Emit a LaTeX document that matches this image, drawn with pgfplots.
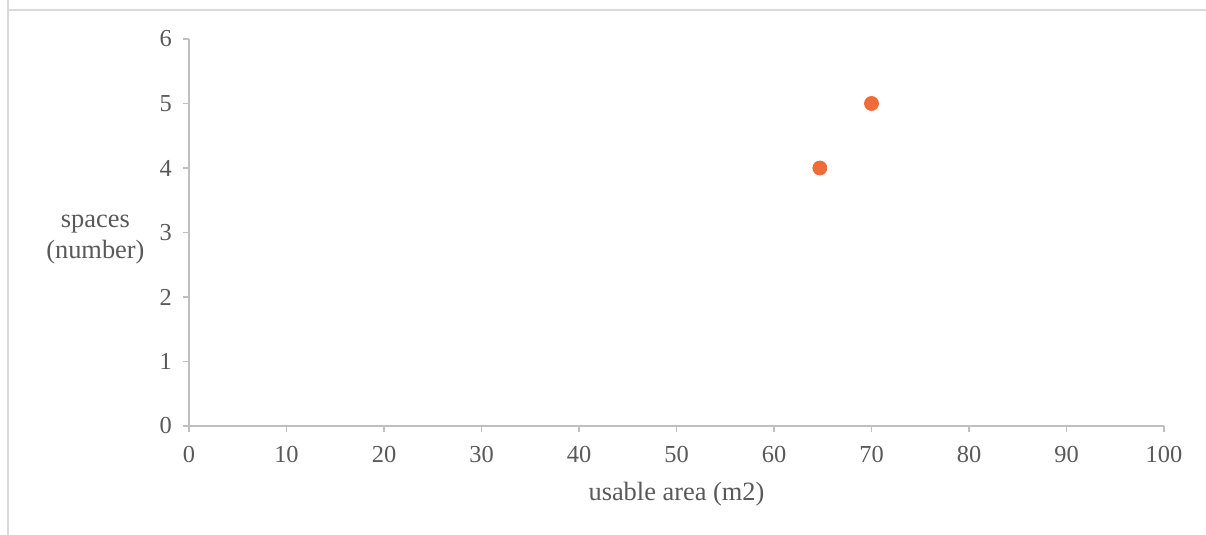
\documentclass[border=0pt]{standalone}
\usepackage{pgfplots}
\pgfplotsset{compat=1.18}
\usepackage{fontspec}
\setmainfont{Liberation Serif}
\definecolor{txt}{RGB}{89,89,89}
\definecolor{axl}{RGB}{191,191,191}
\definecolor{frm}{RGB}{217,217,217}
\definecolor{dot}{RGB}{237,108,58}
\begin{document}
\begin{tikzpicture}[x=1pt,y=1pt]
\useasboundingbox (0,0) rectangle (603,267.5);
\draw[frm, line width=0.6pt] (4,267.5) -- (4,262.5) -- (603,262.5);
\draw[frm, line width=0.6pt] (4,262.5) -- (4,0);
\begin{axis}[
  at={(94.5pt,54.5pt)}, anchor=south west,
  scale only axis, width=487.5pt, height=193.5pt,
  xmin=0, xmax=100, ymin=0, ymax=6,
  xtick={0,10,...,100}, ytick={0,1,...,6},
  axis x line*=bottom, axis y line*=left,
  axis line style={axl, line width=0.6pt},
  tick style={axl, line width=0.6pt},
  tick align=outside, major tick length=3pt,
  font=\fontsize{13.2}{15.5}\selectfont,
  ticklabel style={txt, font=\fontsize{12.2}{14}\selectfont},
  /pgf/number format/assume math mode=true,
  xticklabel style={yshift=-3.5pt},
  yticklabel style={xshift=-2pt},
  xlabel={usable area (m2)},
  xlabel style={txt, at={(axis description cs:0.5,-0.176)}, anchor=center},
  ylabel={spaces\\(number)},
  ylabel style={txt, rotate=-90, align=center, at={(axis description cs:-0.096,0.481)}, anchor=center},
]
\addplot[only marks, mark=*, mark size=3.5pt, mark options={draw=dot, fill=dot}] coordinates {(64.7,4) (70,5)};
\end{axis}
\end{tikzpicture}
\end{document}
